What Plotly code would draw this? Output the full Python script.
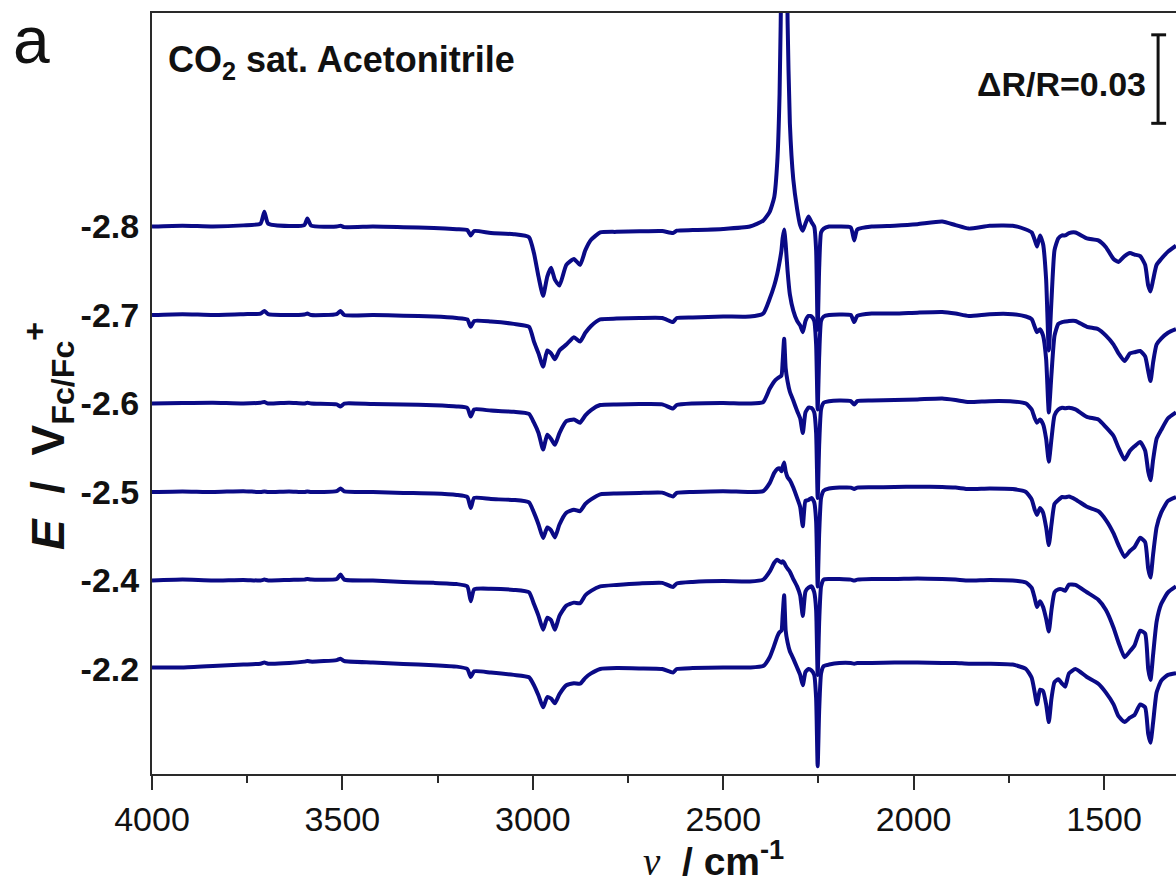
import plotly.graph_objects as go

# Wavenumber grid (cm-1), shared by all spectra
wavenumber = [
    4000, 3920, 3840, 3760, 3715, 3705, 3695, 3640, 3600, 3592, 3582, 3515, 3505, 3495, 3420, 3340, 3260, 3200, 3172, 3163, 3154, 3110, 3050, 3010,
    2997, 2985, 2973, 2962, 2952, 2942, 2930, 2912, 2892, 2876, 2862, 2847, 2823, 2780,
    2720, 2660, 2632, 2622, 2580, 2500, 2430, 2395, 2378, 2366, 2358, 2352, 2347, 2344, 2340, 2336, 2331, 2325, 2316, 2306, 2298, 2291, 2284, 2276, 2268, 2261, 2256, 2252, 2248, 2243, 2236, 2222,
    2195, 2165, 2156, 2148, 2110, 2050, 1990, 1925, 1890, 1855, 1800, 1740, 1705, 1690, 1682, 1676, 1668, 1660, 1652, 1645, 1638, 1630, 1620, 1610, 1602, 1592, 1575, 1545, 1515, 1495, 1475, 1462, 1446, 1432, 1420, 1405, 1392, 1384, 1378, 1371, 1362, 1350, 1332, 1311,
]

# Reflectance change, units of 1e-3 dR/R, one list per electrode potential
dr_m28 = [
    0, 0.3, 0, 0.4, 1, 5, 1, 0.2, 0.5, 2.7, 0.3, 0, 0.3, -0.2, 0, -0.2, -0.5, -0.9, -1.2, -3, -1.5, -2.2, -2.6, -3.6,
    -9, -17, -23.5, -17, -14, -18, -20, -13, -11, -13, -8, -4.5, -2, -1.8,
    -1.6, -1.5, -2.2, -1.4, -1.2, -0.8, 0, 2, 5, 10, 22, 45, 90, 150, 250, 150, 70, 35, 16, 6, 0.5, -1.4, 1, 3.4, 1.5, 0, -8, -35, -14, -2, -0.7, 0,
    0, -0.3, -4.7, -1, 0, 0.3, 0.8, 1.7, 0.5, -0.7, 0.3, 0.3, -1, -2, -4.5, -6.8, -3, -6, -18, -42, -25, -8, -4, -3, -3, -2.2, -2, -4, -4.7, -7, -11, -12, -10, -9, -9.5, -10, -13, -20, -22, -18, -13, -11, -8.5, -6.5,
]
dr_m27 = [
    0, 0.3, 0, 0.3, 0.5, 1.4, 0.3, 0, 0.2, 0.5, 0, 0.3, 1.4, 0, 0, -0.2, -0.5, -1, -1.5, -4, -2, -2.2, -3, -4,
    -9, -13, -17.5, -12, -13, -15, -12, -10, -7.5, -9, -6, -3.7, -1.5, -1.2,
    -1, -1, -2.4, -1, -0.8, -0.5, -0.5, 0.5, 5.5, 10, 14, 18, 22, 26, 29, 24, 15, 7, 1.5, -2, -3.5, -5.8, -2, -0.3, -0.5, -2, -10, -32, -14, -2, -0.5, 0,
    0.2, 0, -2.4, -0.3, 0.5, 0.5, 0.8, 1, 0.5, -0.3, 0.3, 0.3, -0.5, -1.4, -4, -5.8, -4.8, -7, -15, -33, -20, -7, -3, -2.4, -2.2, -2, -2, -4, -4.8, -7, -10, -13, -15.6, -13, -12.6, -12.2, -14, -19, -22.4, -16, -10, -8, -6, -4.8,
]
dr_m26 = [
    0, 0.2, 0.3, 0, 0.3, 0.5, 0, 0.3, 0, 0.3, 0, -0.3, -1, 0, -0.2, -0.3, -0.6, -1, -1.5, -4.4, -2, -2.4, -2.8, -3.5,
    -6.5, -10, -15.6, -10.6, -12, -14, -10, -6, -5.4, -6.5, -4, -2.2, -0.5, -0.3,
    -0.2, -0.3, -1.7, -0.5, 0, 0.2, 0, 0.5, 5, 7.5, 8.5, 9, 9.5, 14, 22, 12, 7.5, 4, 1, -2.5, -5, -10, -3, -1.4, -1.5, -3, -10, -32, -14, -2, 0.3, 0.8,
    1, 0.8, -0.3, 0.8, 1, 1.2, 1.4, 1.7, 1.2, 0.5, 0.8, 0.7, 0, -2, -5, -6.5, -5.4, -7, -12, -19.7, -12, -4, -2, -1.4, -1.6, -1.4, -2, -4.5, -5.4, -8, -11, -15, -19, -16, -14.5, -13, -16, -23, -26, -19, -12, -9, -5, -3,
]
dr_m25 = [
    0, 0.2, 0, 0.3, 0, 0.2, 0, 0.2, 0, 0.2, 0, 0.3, 1.2, 0.2, 0, -0.3, -0.5, -1, -1.7, -5.4, -2, -2.4, -2.7, -3.5,
    -7, -11, -15.6, -12, -13, -15.4, -11, -7, -6, -6.5, -4, -2.5, -0.8, -0.5,
    -0.3, -0.2, -1.5, -0.3, 0, 0.3, 0, 0.3, 3, 6.5, 7.8, 8, 7, 8.5, 10, 7, 5, 4, 1.5, -2, -5, -11.6, -3, -2.7, -2, -3.5, -10, -32, -14, -2, 0.5, 1.2,
    1.5, 1.5, 1, 1.5, 1.6, 1.7, 1.8, 1.7, 1.5, 1, 1.2, 1, 0, -2.5, -6, -7.8, -5.4, -7, -12, -18, -11, -4, -2.7, -1.7, -1.8, -1.5, -2.5, -5, -6.5, -9.5, -14, -18, -22, -20, -18.7, -15.5, -17, -26, -29, -21, -12, -7, -3, -1.7,
]
dr_m24 = [
    0, 0.3, 0, 0.2, 0, 0.3, 0, 0.2, 0.3, 0.5, 0.3, 0.5, 2, 0.3, 0, -0.5, -0.8, -1.2, -2, -7, -3, -2.8, -3.2, -4,
    -8, -12, -16.7, -12.6, -13.5, -16.7, -12, -8.5, -7.5, -7.7, -5, -3.5, -2, -1.5,
    -1, -0.8, -2.2, -1, -0.5, -0.2, -0.3, 0.3, 3, 6, 7, 6.5, 6, 6.5, 6, 5, 4, 3, 0.5, -2, -5, -12, -3.7, -2.4, -2, -4, -10, -32, -14, -2, 0.3, 0.5,
    0.5, 0.3, 0, 0.3, 0.5, 0.5, 0.7, 0.5, 0.3, 0, 0.2, 0, -0.7, -2.5, -6, -9, -7, -9, -13, -17.3, -10, -4, -3, -3, -3.5, -1.4, -1.5, -4, -6.5, -10, -16, -21, -26, -24, -22, -17, -18, -30, -33.7, -25, -14, -8, -4, -2,
]
dr_m22 = [
    0.5, 0.5, 1, 1.5, 1.8, 2.2, 1.8, 2, 2.5, 2.7, 2.5, 3, 3.5, 2.7, 2.2, 1.7, 1.3, 0.8, 0, -2.7, -0.8, -1.2, -2, -2.8,
    -5.5, -9, -13, -9.5, -10, -11.6, -8.5, -5.5, -4.8, -5, -3, -1.5, 0, 0.3,
    0.2, 0, -1.2, 0, 0.3, 0.5, 0.5, 1, 4, 8, 11, 12.5, 13, 18, 25, 13, 9, 6, 3.5, 0.5, -2, -5.5, -1, 0, -0.5, -2, -10, -33, -14, -1.5, 1, 1.5,
    2, 2, 1.8, 2, 2, 2.2, 2.2, 2, 2, 1.8, 1.8, 1.5, 0, -3, -8, -12, -7, -7.5, -12, -18, -10, -4.4, -3.5, -5, -6, -1.5, 0, -2.7, -5, -8, -12, -16, -18, -16.5, -15.6, -12, -13, -22, -25, -18, -8, -4, -2, -1.4,
]

potentials = ["-2.8", "-2.7", "-2.6", "-2.5", "-2.4", "-2.2"]
spectra = [dr_m28, dr_m27, dr_m26, dr_m25, dr_m24, dr_m22]
offsets = [150, 120, 90, 60, 30, 0]  # vertical stacking, 1e-3 dR/R
scale_bar = 30  # 0.03 dR/R

LINE = "#0a0a86"
AXIS = "#2a2a2a"
FONT = "Liberation Sans, Arial, sans-serif"

# Plot-area geometry in pixels
W, H = 1176, 887
L, R, T, B = 152, 0, 13, 113
pw, ph = W - L - R, H - T - B


def px(x):
    return (x - L) / pw


def py(y):
    return (H - B - y) / ph


fig = go.Figure()
for vals, off, pot in zip(spectra, offsets, potentials):
    fig.add_trace(go.Scatter(
        x=wavenumber,
        y=[v + off for v in vals],
        mode="lines",
        line=dict(color=LINE, width=4, shape="spline", smoothing=0.5),
        name=pot,
        hoverinfo="skip",
    ))

# dR/R scale bar
bar_x, cap_l, cap_r = 1358, 1376, 1337
bar_lo, bar_hi = 185, 185 + scale_bar
for shp in [
    dict(x0=bar_x, x1=bar_x, y0=bar_lo, y1=bar_hi),
    dict(x0=cap_l, x1=cap_r, y0=bar_lo, y1=bar_lo),
    dict(x0=cap_l, x1=cap_r, y0=bar_hi, y1=bar_hi),
]:
    fig.add_shape(type="line", xref="x", yref="y", line=dict(color="#111", width=3), **shp)

annotations = [
    dict(text="\u0394R/R=0.03", x=px(1148), y=py(84), xanchor="right", yanchor="middle",
         font=dict(family=FONT, size=34, color="#111", weight="bold")),
    dict(text="CO<sub>2</sub> sat. Acetonitrile", x=px(166), y=py(62), xanchor="left", yanchor="middle",
         font=dict(family=FONT, size=36, color="#111", weight="bold")),
    dict(text="a", x=px(31), y=py(1), xanchor="center", yanchor="top",
         font=dict(family=FONT, size=66, color="#111")),
    dict(text="<span style='font-family:Liberation Serif;font-style:italic;font-weight:normal'>\u03bd</span>"
              "<b>  / cm<sup>-1</sup></b>",
         x=px(713), y=py(858), xanchor="center", yanchor="middle",
         font=dict(family=FONT, size=39, color="#111")),
    dict(text="<b><i>E</i>  /  V<sub>Fc/Fc</sub><sup>+</sup></b>", x=px(48), y=py(436),
         xanchor="center", yanchor="middle", textangle=-90,
         font=dict(family=FONT, size=46, color="#111")),
]
for a in annotations:
    fig.add_annotation(xref="paper", yref="paper", showarrow=False, **a)

fig.update_layout(
    width=W, height=H,
    margin=dict(l=L, r=R, t=T, b=B, pad=0),
    paper_bgcolor="white", plot_bgcolor="white",
    showlegend=False,
    xaxis=dict(
        range=[4000, 1311], tick0=0, dtick=500,
        ticks="outside", ticklen=14, tickwidth=2, tickcolor=AXIS,
        minor=dict(dtick=250, ticks="outside", ticklen=7, tickwidth=2, tickcolor=AXIS),
        showline=True, linewidth=2, linecolor=AXIS, mirror=True,
        showgrid=False, zeroline=False,
        tickfont=dict(family=FONT, size=34, color="#111"),
    ),
    yaxis=dict(
        range=[-35.6, 222.4],
        tickmode="array", tickvals=offsets, ticktext=potentials,
        ticks="", showline=True, linewidth=2, linecolor=AXIS, mirror=False,
        showgrid=False, zeroline=False, ticklabelstandoff=4,
        tickfont=dict(family=FONT, size=34, color="#111", weight="bold"),
    ),
)

fig.write_html("out.html")
